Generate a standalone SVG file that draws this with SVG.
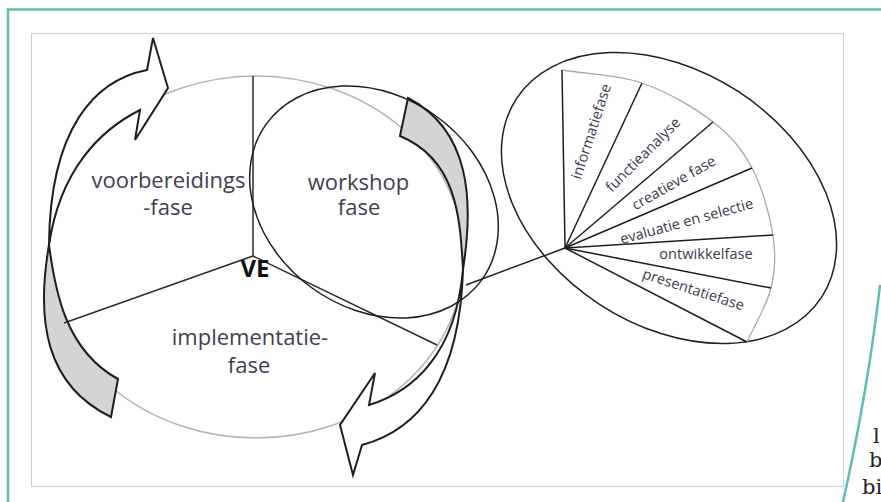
<svg xmlns="http://www.w3.org/2000/svg" width="881" height="502" viewBox="0 0 881 502">
  <style>
    .teal { fill: none; stroke: #62bdb0; stroke-width: 2.5; }
    .cycle { fill: none; stroke: #b4b4b4; stroke-width: 1.5; }
    .spoke { fill: none; stroke: #2a2a2a; stroke-width: 1.5; }
    .ink { fill: none; stroke: #1e1e1e; stroke-width: 1.5; }
    .arrow-face { fill: #ffffff; stroke: #1e1e1e; stroke-width: 2; stroke-linejoin: miter; }
    .arrow-back { fill: #d4d4d4; stroke: #1e1e1e; stroke-width: 2; stroke-linejoin: miter; }
    .fan-arc { fill: none; stroke: #a8a8a8; stroke-width: 1.3; }
    .label { font-family: "Open Sans", "Noto Sans", "Liberation Sans", sans-serif; font-size: 22px; fill: #40404f; text-anchor: middle; }
    .small { font-family: "Open Sans", "Noto Sans", "Liberation Sans", sans-serif; font-size: 14.6px; fill: #3a3a4c; text-anchor: middle; }
    .core { font-family: "Open Sans", "Liberation Sans", sans-serif; font-size: 24px; font-weight: 700; fill: #111; text-anchor: middle; }
    .page { font-family: "DejaVu Serif", "Liberation Serif", serif; font-size: 21px; fill: #222; }
  </style>

  <!-- page frame -->
  <g id="frame">
    <rect x="0" y="0" width="881" height="502" fill="#ffffff"/>
    <path class="teal" d="M8,502 V9.5 H881"/>
    <path class="teal" d="M880,285 Q868,390 843,502"/>
    <text class="page" x="873" y="443">l</text>
    <text class="page" x="869" y="467">b</text>
    <text class="page" x="862" y="494">bi</text>
  </g>

  <!-- figure panel -->
  <rect id="panel" x="31.5" y="33.5" width="812" height="453" fill="#ffffff" stroke="#cfcfcf" stroke-width="1"/>

  <!-- VE cycle -->
  <g id="ve-cycle">
    <ellipse class="cycle" cx="256" cy="257" rx="208" ry="181"/>
  </g>

  <!-- left curved arrow (upwards) -->
  <g id="arrow-left">
    <path class="arrow-back" d="M49,245 C36,320 45,385 111,417 L118,379 C65,350 55,290 49,245 Z"/>
    <path class="arrow-face" d="M147,70 L153,38 L168,88 L135,140 L140,110 C100,130 60,170 49,245 C50,128 95,80 147,70 Z"/>
  </g>

  <!-- right curved arrow (downwards) -->
  <g id="arrow-right">
    <path class="arrow-back" d="M463,269 C474,200 470,130 408,98 L400,136 C458,160 460,220 463,269 Z"/>
    <path class="arrow-face" d="M362,445 L353,475 L340,425 L375,373 L369,405 C412,392 456,355 463,269 C460,380 418,430 362,445 Z"/>
  </g>

  <!-- spokes of the cycle -->
  <g id="spokes">
    <line class="spoke" x1="253" y1="76" x2="253" y2="256" stroke="#555"/>
    <line class="spoke" x1="253" y1="256" x2="64" y2="323"/>
    <line class="spoke" x1="253" y1="256" x2="437" y2="345"/>
  </g>

  <!-- workshop phase -->
  <g id="workshopfase">
    <ellipse class="ink" cx="374" cy="202" rx="133" ry="106" transform="rotate(36 374 202)"/>
    <text class="label" x="358.5" y="190">workshop<tspan x="359" dy="25">fase</tspan></text>
  </g>

  <g id="voorbereidingsfase">
    <text class="label" x="168.5" y="188">voorbereidings<tspan x="168" dy="27">-fase</tspan></text>
  </g>

  <g id="implementatiefase">
    <text class="label" x="250" y="345">implementatie-<tspan x="249" dy="28">fase</tspan></text>
  </g>

  <g id="ve">
    <text class="core" x="255" y="277">VE</text>
  </g>

  <!-- connector from workshop phase to its detail -->
  <g id="connectors">
    <line class="ink" x1="466" y1="285" x2="565" y2="248"/>
  </g>

  <!-- workshop detail: fan of sub-phases -->
  <g id="workshop-detail">
    <ellipse class="ink" cx="669" cy="198" rx="182" ry="127" transform="rotate(33 669 198)"/>
    <path class="fan-arc" d="M562,70 C588.7,74.3 616.8,74.3 642,83 C667.2,91.7 694.7,107.8 713,122 C731.3,136.2 742,149.2 752,168 C762,186.8 769.8,215 773,235 C776.2,255 775.3,270.2 771,288 C766.7,305.8 755,324 747,342"/>
    <g class="ink">
      <line x1="565" y1="248" x2="562" y2="70"/>
      <line x1="565" y1="248" x2="642" y2="83"/>
      <line x1="565" y1="248" x2="713" y2="122"/>
      <line x1="565" y1="248" x2="752" y2="168"/>
      <line x1="565" y1="248" x2="773" y2="235"/>
      <line x1="565" y1="248" x2="771" y2="288"/>
      <line x1="565" y1="248" x2="747" y2="342"/>
    </g>
    <text class="small" transform="translate(591.7 131.7) rotate(-72)" y="4.5">informatiefase</text>
    <text class="small" transform="translate(643.3 155) rotate(-45)" y="4.5">functieanalyse</text>
    <text class="small" transform="translate(674 183.3) rotate(-29.7)" y="4.5">creatieve fase</text>
    <text class="small" transform="translate(686.7 221.7) rotate(-15.4)" y="4.5">evaluatie en selectie</text>
    <text class="small" x="706" y="259">ontwikkelfase</text>
    <text class="small" transform="translate(693.3 290) rotate(17.9)" y="4.5">presentatiefase</text>
  </g>
</svg>
